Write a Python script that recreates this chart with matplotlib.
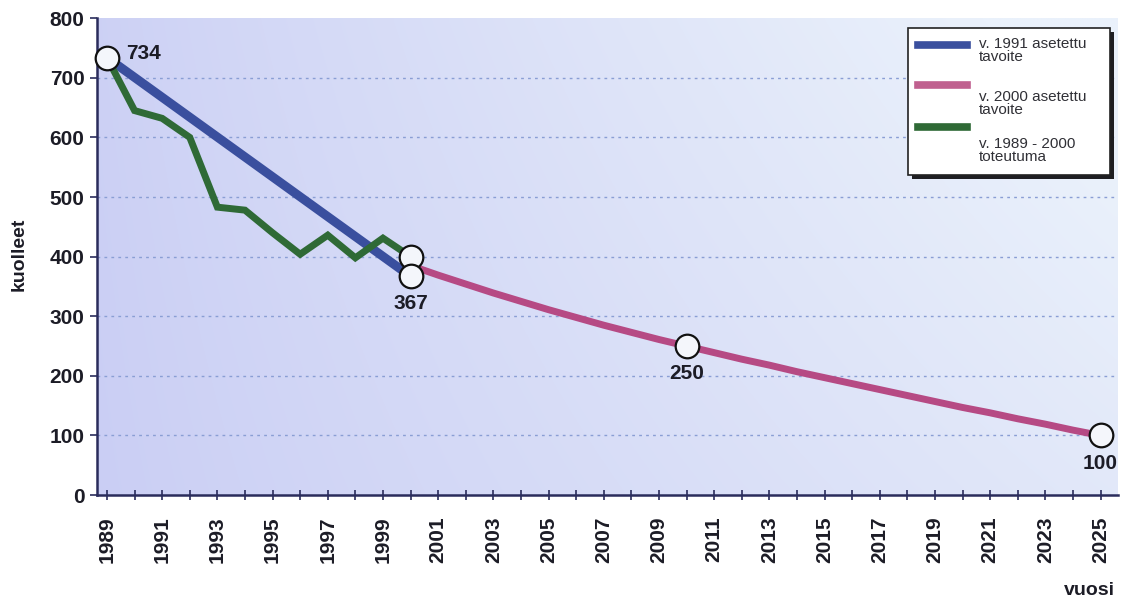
import numpy as np
import matplotlib
matplotlib.use("Agg")
import matplotlib.pyplot as plt
from matplotlib.patches import Rectangle

plt.rcParams["font.family"] = ["Liberation Sans", "DejaVu Sans"]

# v. 1991 asetettu tavoite
target_1991_years = [1989, 2000]
target_1991_values = [734, 367]

# v. 1989 - 2000 toteutuma
actual_years = list(range(1989, 2001))
actual_values = [734, 645, 632, 600, 483, 478, 440, 404, 436, 398, 431, 400]

# v. 2000 asetettu tavoite
target_2000_years = list(range(2000, 2026))
target_2000_values = [385, 369, 354, 339, 325, 311, 298, 285, 273, 261, 250,
                      239, 228, 218, 207, 197, 187, 177, 167, 157, 147, 138,
                      128, 119, 109, 100]

# circled points with their value labels
marked_years = [1989, 2000, 2000, 2010, 2025]
marked_values = [734, 400, 367, 250, 100]
labelled = {734: (1989, 734), 367: (2000, 367), 250: (2010, 250), 100: (2025, 100)}

year_ticks = list(range(1989, 2026))
year_labels = [str(y) if (y - 1989) % 2 == 0 else "" for y in year_ticks]
value_ticks = [0, 100, 200, 300, 400, 500, 600, 700, 800]

legend_labels = ["v. 1991 asetettu\ntavoite", "v. 2000 asetettu\ntavoite",
                 "v. 1989 - 2000\ntoteutuma"]

blue = "#3a4f9e"
pink = "#b64a84"
green = "#2f6a36"
axis_col = "#2a2c5c"
text_col = "#1c1c26"

fig = plt.figure(figsize=(11.23, 6.06), dpi=100)
ax = fig.add_axes([0.0864, 0.183, 0.9091, 0.787])
ax.set_xlim(1988.64, 2025.63)
ax.set_ylim(0, 800)

# background gradient: lavender on the left fading to pale blue-white top right
nx, ny = 300, 120
gx = np.linspace(0, 1, nx)[None, :]
gy = np.linspace(0, 1, ny)[:, None]
s = np.clip(0.75 * gx ** 0.85 + 0.3 * gy * gx + 0.08 * gy, 0, 1)
lav = np.array([202, 206, 244]) / 255
light = np.array([234, 241, 251]) / 255
img = lav[None, None, :] * (1 - s[..., None]) + light[None, None, :] * s[..., None]
ax.imshow(img, extent=[0, 1, 0, 1], transform=ax.transAxes, origin="lower",
          aspect="auto", zorder=0, interpolation="bicubic")

for v in value_ticks[1:-1]:
    ax.axhline(v, color="#8a9ed4", lw=1.0, ls=(0, (2, 3)), zorder=1)

ax.plot(target_2000_years, target_2000_values, color=pink, lw=5,
        solid_capstyle="round", zorder=3)
ax.plot(target_1991_years, target_1991_values, color=blue, lw=6.5,
        solid_capstyle="round", zorder=4)
ax.plot(actual_years, actual_values, color=green, lw=5,
        solid_joinstyle="miter", zorder=5)

ax.plot(marked_years, marked_values, "o", ms=17, mfc="#f4f6fb", mec="#111111",
        mew=1.6, zorder=6, clip_on=False)

ann = dict(fontsize=15, fontweight="bold", color=text_col, zorder=7)
x, y = labelled[734]
ax.annotate("734", (x, y), xytext=(14, 3), textcoords="offset points",
            ha="left", va="center", **ann)
for key in (367, 250, 100):
    x, y = labelled[key]
    ax.annotate(str(key), (x, y), xytext=(0, -13), textcoords="offset points",
                ha="center", va="top", **ann)

ax.set_xticks(year_ticks)
ax.set_xticklabels(year_labels, rotation=90, fontsize=15, fontweight="bold",
                   color=text_col)
ax.set_yticks(value_ticks)
ax.set_yticklabels([str(v) for v in value_ticks], fontsize=15,
                   fontweight="bold", color=text_col)
ax.tick_params(axis="x", direction="inout", length=7, width=1.2,
               color=axis_col, pad=12)
ax.tick_params(axis="y", direction="out", length=5, width=1.2,
               color=axis_col, pad=4)

for side in ("top", "right"):
    ax.spines[side].set_visible(False)
for side in ("left", "bottom"):
    ax.spines[side].set_color(axis_col)
    ax.spines[side].set_linewidth(1.8)

fig.text(0.017, 0.58, "kuolleet", rotation=90, ha="center", va="center",
         fontsize=14, fontweight="bold", color=text_col)
fig.text(0.993, 0.012, "vuosi", ha="right", va="bottom",
         fontsize=14, fontweight="bold", color=text_col)

# legend box with a dark drop shadow
W, H = 1123, 606
bx0, by0, bx1, by1 = 908, 28, 1110, 175


def fx(px):
    return px / W


def fy(py):
    return 1 - py / H


fig.patches.append(Rectangle((fx(bx0 + 4), fy(by1 + 4)), fx(bx1 - bx0),
                             (by1 - by0) / H, transform=fig.transFigure,
                             facecolor="#1e1e22", edgecolor="none", zorder=8))
fig.patches.append(Rectangle((fx(bx0), fy(by1)), fx(bx1 - bx0),
                             (by1 - by0) / H, transform=fig.transFigure,
                             facecolor="white", edgecolor="#222222", lw=1.2,
                             zorder=9))

legend_colors = [blue, "#c0608f", green]
handle_y = [45, 85, 127]
text_y = [37, 90, 137]
for col, hy, ty, lab in zip(legend_colors, handle_y, text_y, legend_labels):
    fig.add_artist(plt.Line2D([fx(918), fx(967)], [fy(hy), fy(hy)],
                              transform=fig.transFigure, color=col, lw=5.5,
                              zorder=10))
    fig.text(fx(979), fy(ty), lab, ha="left", va="top", fontsize=11,
             color="#303036", linespacing=0.92, zorder=10)

fig.savefig("out.png", dpi=100)
